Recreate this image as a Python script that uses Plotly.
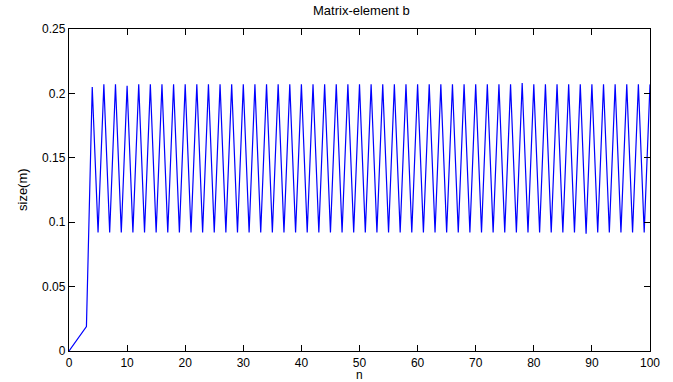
import plotly.graph_objects as go

# data
n_start = [0, 3]
size_start = [0.0, 0.019]
n_osc = list(range(4, 101))
peak_vals = [0.205, 0.207, 0.207, 0.206, 0.207, 0.207, 0.207, 0.207, 0.207, 0.207,
             0.207, 0.207, 0.207, 0.207, 0.207, 0.207, 0.207, 0.207, 0.207, 0.207,
             0.207, 0.207, 0.207, 0.207, 0.207, 0.207, 0.207, 0.207, 0.207, 0.207,
             0.207, 0.207, 0.207, 0.207, 0.207, 0.207, 0.207, 0.208, 0.207, 0.207,
             0.207, 0.207, 0.207, 0.207, 0.207, 0.207, 0.207, 0.207, 0.207]
trough_vals = [0.092, 0.092, 0.092, 0.092, 0.092, 0.092, 0.092, 0.092, 0.092, 0.092,
               0.092, 0.092, 0.092, 0.092, 0.092, 0.092, 0.092, 0.092, 0.092, 0.092,
               0.092, 0.092, 0.092, 0.092, 0.092, 0.092, 0.092, 0.092, 0.092, 0.092,
               0.092, 0.092, 0.092, 0.092, 0.092, 0.092, 0.092, 0.092, 0.092, 0.092,
               0.092, 0.092, 0.091, 0.092, 0.092, 0.092, 0.092, 0.092]

size_osc = []
for i in range(len(n_osc)):
    if i % 2 == 0:
        size_osc.append(peak_vals[i // 2])
    else:
        size_osc.append(trough_vals[i // 2])

n = n_start + n_osc
size = size_start + size_osc

x_ticks = [0, 10, 20, 30, 40, 50, 60, 70, 80, 90, 100]
y_ticks = [0, 0.05, 0.1, 0.15, 0.2, 0.25]
y_tick_text = ["0", "0.05", "0.1", "0.15", "0.2", "0.25"]

W, H = 673, 382
L, R, T, B = 69, 23, 29, 31

fig = go.Figure()
fig.add_trace(go.Scatter(x=n, y=size, mode="lines",
                         line=dict(color="rgb(0,0,255)", width=1.2),
                         showlegend=False))

fam = "Liberation Sans, Arial, sans-serif"
font = dict(family=fam, size=12, color="black")

fig.update_layout(
    width=W, height=H,
    margin=dict(l=L, r=R, t=T, b=B, autoexpand=False),
    paper_bgcolor="white", plot_bgcolor="white",
    font=font,
    xaxis=dict(range=[0, 100], tickvals=x_ticks, ticks="inside", ticklen=6,
               showline=True, linecolor="black", linewidth=1.3, mirror="ticks",
               showgrid=False, zeroline=False, tickcolor="black", tickwidth=1,
               automargin=False, ticklabelstandoff=0),
    yaxis=dict(range=[0, 0.25], tickvals=y_ticks, ticktext=y_tick_text,
               ticks="inside", ticklen=6,
               showline=True, linecolor="black", linewidth=1.3, mirror="ticks",
               showgrid=False, zeroline=False, tickcolor="black", tickwidth=1,
               automargin=False),
    annotations=[
        dict(text="Matrix-element b", xref="paper", yref="paper",
             x=(361 - L) / (W - L - R), y=1 + (T - 10) / (H - T - B),
             xanchor="center", yanchor="middle", showarrow=False,
             font=dict(family=fam, size=13, color="black")),
        dict(text="n", xref="paper", yref="paper",
             x=0.5, y=-(375 - (H - B)) / (H - T - B),
             xanchor="center", yanchor="middle", showarrow=False,
             font=dict(family=fam, size=12, color="black")),
        dict(text="size(m)", xref="paper", yref="paper",
             x=-(L - 22) / (W - L - R), y=0.5, textangle=-90,
             xanchor="center", yanchor="middle", showarrow=False,
             font=dict(family=fam, size=13, color="black")),
    ],
)

fig.write_html("out.html", config={"displayModeBar": False},
               post_script="document.body.style.margin='0';document.body.style.overflow='hidden';")
